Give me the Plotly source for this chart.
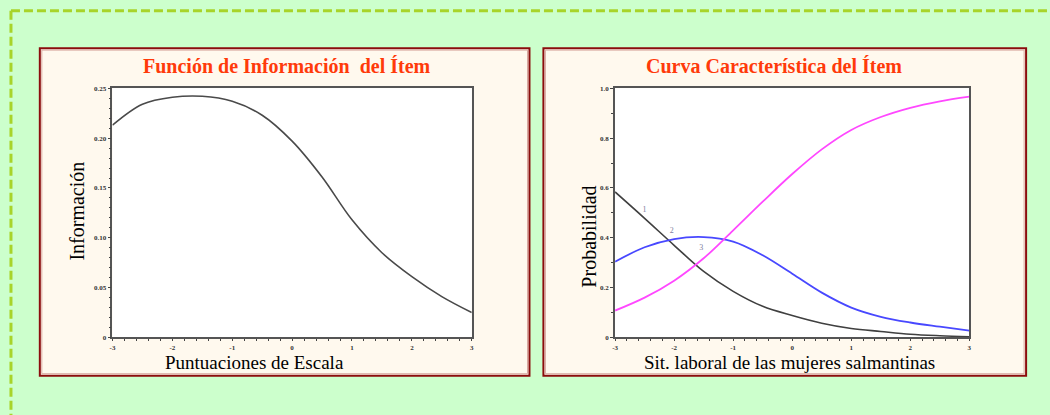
import plotly.graph_objects as go

W, H = 1050, 415

# Theta grid shared by both panels
theta = [-3, -2.5, -2, -1.5, -1, -0.5, 0, 0.5, 1, 1.5, 2, 2.5, 3]

# Item information function
info = [0.213, 0.234, 0.241, 0.242, 0.237, 0.223, 0.197, 0.161, 0.118, 0.085, 0.061, 0.041, 0.025]

# Category characteristic curves
p_cat1 = [0.584, 0.478, 0.370, 0.265, 0.185, 0.125, 0.088, 0.057, 0.036, 0.024, 0.013, 0.007, 0.003]
p_cat2 = [0.304, 0.362, 0.395, 0.403, 0.385, 0.330, 0.256, 0.180, 0.120, 0.083, 0.060, 0.043, 0.027]
p_cat3 = [0.108, 0.160, 0.228, 0.318, 0.430, 0.545, 0.656, 0.755, 0.833, 0.885, 0.922, 0.948, 0.967]

# Category tags placed along the curves
tag_text = ["1", "2", "3"]
tag_x = [-2.50, -2.04, -1.54]
tag_y = [0.510, 0.429, 0.358]

x_ticks = [-3, -2, -1, 0, 1, 2, 3]
info_ticks = [0, 0.05, 0.10, 0.15, 0.20, 0.25]
info_labels = ["0", "0.05", "0.10", "0.15", "0.20", "0.25"]
prob_ticks = [0, 0.2, 0.4, 0.6, 0.8, 1.0]
prob_labels = ["0", "0.2", "0.4", "0.6", "0.8", "1.0"]

titles = ["Función de Información  del Ítem", "Curva Característica del Ítem"]
x_titles = ["Puntuaciones de Escala", "Sit. laboral de las mujeres salmantinas"]
y_titles = ["Información", "Probabilidad"]


def px(x):
    return x / W


def py(y):
    return 1 - y / H


SERIF = "Liberation Serif, Times New Roman, serif"

fig = go.Figure()

fig.add_trace(go.Scatter(x=theta, y=info, mode="lines", line=dict(color="#4a4a4a", width=1.6, shape="spline"),
                         xaxis="x", yaxis="y", showlegend=False))
fig.add_trace(go.Scatter(x=theta, y=p_cat1, mode="lines", line=dict(color="#404040", width=1.6, shape="spline"),
                         xaxis="x2", yaxis="y2", showlegend=False))
fig.add_trace(go.Scatter(x=theta, y=p_cat2, mode="lines", line=dict(color="#4848ff", width=1.8, shape="spline"),
                         xaxis="x2", yaxis="y2", showlegend=False))
fig.add_trace(go.Scatter(x=theta, y=p_cat3, mode="lines", line=dict(color="#ff48ff", width=1.8, shape="spline"),
                         xaxis="x2", yaxis="y2", showlegend=False))
fig.add_trace(go.Scatter(x=tag_x, y=tag_y, mode="text", text=tag_text,
                         textfont=dict(family=SERIF, size=8, color="#8080a0"),
                         xaxis="x2", yaxis="y2", showlegend=False, hoverinfo="skip"))

tickfont = dict(family=SERIF, size=7, color="#333333", weight="bold")
common_x = dict(range=[-3, 3], tickvals=x_ticks, ticktext=[str(v) for v in x_ticks],
                ticks="outside", ticklen=2, tickwidth=1, tickcolor="#444", ticklabelstandoff=0,
                minor=dict(dtick=0.2, ticks="outside", ticklen=2, tickcolor="#444", showgrid=False),
                showline=True, linecolor="#555555", linewidth=1.6, mirror=True,
                showgrid=False, zeroline=False, tickfont=tickfont, fixedrange=True)
common_y = dict(ticks="outside", ticklen=3, tickwidth=1, tickcolor="#444",
                showline=True, linecolor="#555555", linewidth=1.6, mirror=True,
                showgrid=False, zeroline=False, tickfont=tickfont, fixedrange=True)

domain_y = [py(340), py(86)]
fig.update_layout(
    width=W, height=H,
    margin=dict(l=0, r=0, t=0, b=0),
    paper_bgcolor="#ccffcc",
    plot_bgcolor="#ffffff",
    xaxis=dict(domain=[px(110), px(471)], anchor="y", **common_x),
    yaxis=dict(domain=domain_y, anchor="x", range=[0, 0.25], tickvals=info_ticks, ticktext=info_labels,
               minor=dict(dtick=0.01, ticks="outside", ticklen=2, tickcolor="#444", showgrid=False), **common_y),
    xaxis2=dict(domain=[px(615), px(971)], anchor="y2", **common_x),
    yaxis2=dict(domain=domain_y, anchor="x2", range=[0, 1.0], tickvals=prob_ticks, ticktext=prob_labels,
                minor=dict(dtick=0.1, ticks="outside", ticklen=2, tickcolor="#444", showgrid=False), **common_y),
)

shapes = []
# Dashed outer frame
shapes.append(dict(type="line", xref="paper", yref="paper", x0=px(8), x1=px(1060), y0=py(7), y1=py(7),
                   line=dict(color="#a8d42a", width=3, dash="9px,4px"), layer="below"))
shapes.append(dict(type="line", xref="paper", yref="paper", x0=px(8), x1=px(8), y0=py(7), y1=py(420),
                   line=dict(color="#a8d42a", width=3, dash="9px,4px"), layer="below"))
# Panel boxes
for (x0, x1) in [(37, 529), (543, 1028)]:
    shapes.append(dict(type="rect", xref="paper", yref="paper", x0=px(x0), x1=px(x1), y0=py(379), y1=py(45),
                       line=dict(color="#8b0d0d", width=2), fillcolor="#fff9ee", layer="below"))
    shapes.append(dict(type="rect", xref="paper", yref="paper", x0=px(x0 + 2), x1=px(x1 - 2), y0=py(377),
                       y1=py(47), line=dict(color="#d8a8a0", width=1), fillcolor="rgba(0,0,0,0)", layer="below"))
# White plotting areas
for xr, yr in [("x domain", "y domain"), ("x2 domain", "y2 domain")]:
    shapes.append(dict(type="rect", xref=xr, yref=yr, x0=0, x1=1, y0=0, y1=1,
                       line=dict(width=0), fillcolor="#ffffff", layer="below"))
fig.update_layout(shapes=shapes)

ann = []
for cx, t in zip([285, 775], titles):
    ann.append(dict(text=t, x=px(cx), y=py(63), xref="paper", yref="paper", showarrow=False,
                    xanchor="center", yanchor="middle",
                    font=dict(family=SERIF, size=20, color="#ff3a0a", weight="bold")))
for cx, t in zip([253, 790], x_titles):
    ann.append(dict(text=t, x=px(cx), y=py(366), xref="paper", yref="paper", showarrow=False,
                    xanchor="center", yanchor="middle", font=dict(family=SERIF, size=19, color="#000000")))
for (cx, cy), t in zip([(74, 211), (589, 237)], y_titles):
    ann.append(dict(text=t, x=px(cx), y=py(cy), xref="paper", yref="paper", showarrow=False, textangle=-90,
                    xanchor="center", yanchor="middle", font=dict(family=SERIF, size=20, color="#000000")))
fig.update_layout(annotations=ann)

fig.write_html("out.html")
